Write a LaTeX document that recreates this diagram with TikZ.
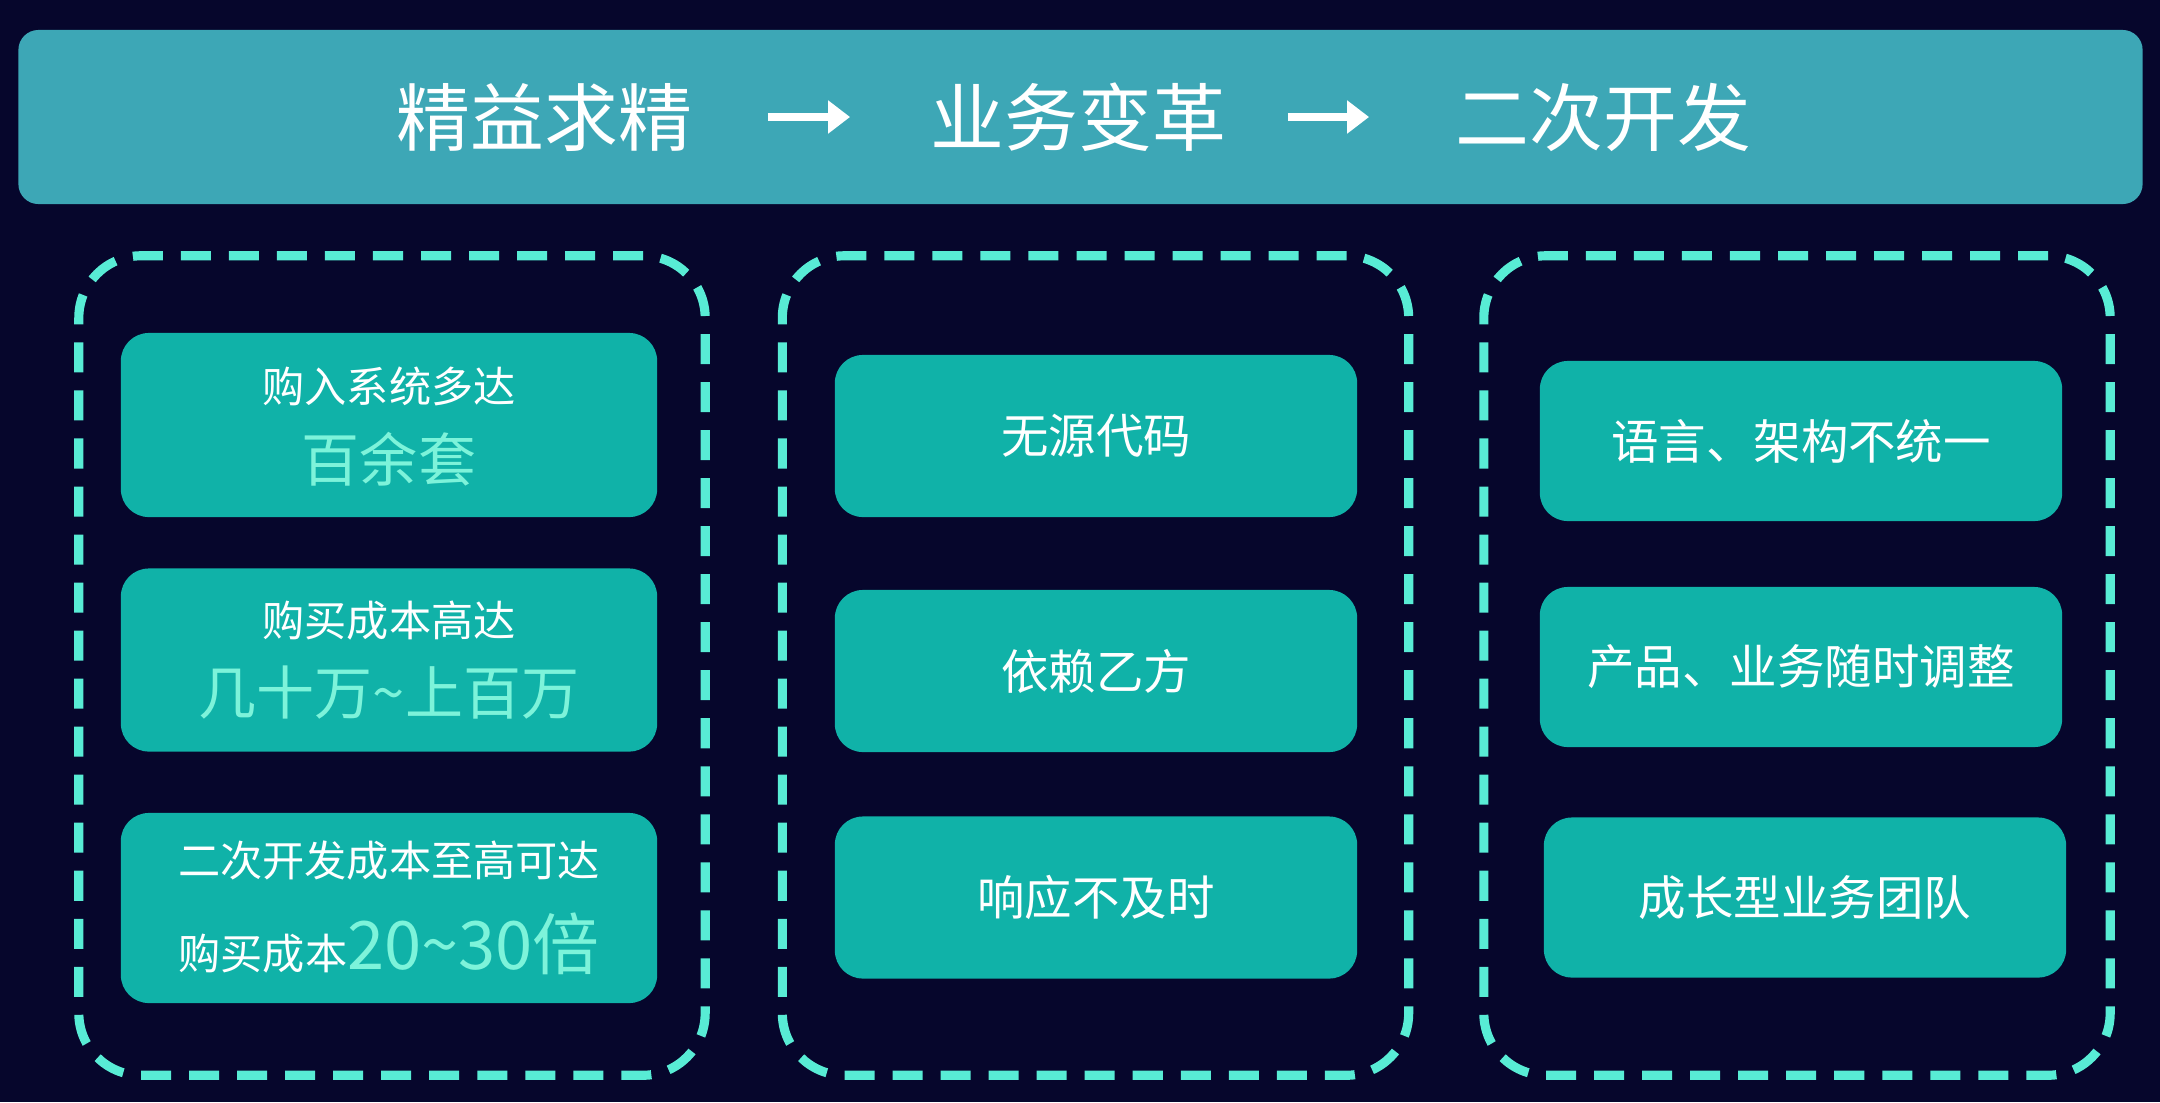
\documentclass[tikz,border=0pt]{standalone}
\usepackage{fontspec}
\newfontfamily\cjk{Noto Sans CJK SC}
\usepackage{xcolor}
\usetikzlibrary{positioning, arrows.meta}

\definecolor{bgnavy}{HTML}{06062C}
\definecolor{bannerteal}{HTML}{3DA7B6}
\definecolor{cardteal}{HTML}{10B2A8}
\definecolor{dashaqua}{HTML}{58ECD5}
\definecolor{hiaqua}{HTML}{7DF3DA}

\begin{document}
\begin{tikzpicture}[
                    % one unit is one pixel of the slide, y runs downwards
                    x=0.01cm, y=-0.01cm,
                    every node/.style={font=\cjk, text=white, inner sep=0pt},
                    card/.style={fill=cardteal, rounded corners=0.28cm,
                                 minimum width=5.22cm, minimum height=1.62cm},
                    group box/.style={draw=dashaqua, line width=2.6pt, rounded corners=0.62cm,
                                 dash pattern=on 0.3cm off 0.18cm,
                                 minimum width=6.26cm, minimum height=8.19cm},
                    title arrow/.style={-{Triangle[length=0.22cm,width=0.32cm]}, line width=2.3pt, white}
                  ]
                  % --- font sizes ---
                  \def\Small{\fontsize{12}{14}\selectfont}
                  \def\Mid{\fontsize{13.5}{16}\selectfont}
                  \def\Big{\fontsize{16.5}{20}\selectfont}
                  \def\Title{\fontsize{21}{25}\selectfont}

                  % --- background ---
                  \fill[bgnavy] (0,0) rectangle (2160,1102);
                  \useasboundingbox (0,0) rectangle (2160,1102);

                  % --- banner with the three stages ---
                  \node[fill=bannerteal, rounded corners=0.2cm, minimum width=21.23cm, minimum height=1.74cm] (banner) at (1080.5,117) {};
                  \node (lean) at (544.5,117) {\Title 精益求精};
                  \node (reform) at (1078.5,117) {\Title 业务变革};
                  \node (redev) at (1603.5,117) {\Title 二次开发};
                  \draw[title arrow, shorten <=0.75cm, shorten >=0.8cm] (lean) -- (reform);
                  \draw[title arrow, shorten <=0.61cm, shorten >=0.86cm] (reform) -- (redev);

                  % --- dashed groups ---
                  \node[group box] (grpA) at (392,665.5) {};
                  \node[group box] (grpB) at (1095.5,665.5) {};
                  \node[group box] (grpC) at (1797,665.5) {};

                  % --- left column: cost ---
                  \node[card, minimum width=5.36cm, minimum height=1.84cm] (buy) at (389,425) {};
                  \node (buy top) at (389,386) {\Small 购入系统多达};
                  \node[text=hiaqua] (buy num) at (389,459) {\Big 百余套};

                  \node[card, minimum width=5.36cm, minimum height=1.83cm] (cost) at (389,660) {};
                  \node (cost top) at (389,621) {\Small 购买成本高达};
                  \node[text=hiaqua] (cost num) at (389,693) {\Big 几十万\textasciitilde 上百万};

                  \node[card, minimum width=5.36cm, minimum height=1.90cm] (dev) at (389,908) {};
                  \node (dev top) at (389,861) {\Small 二次开发成本至高可达};
                  \node (dev num) at (389,944) {\Small 购买成本{\color{hiaqua}\fontsize{19}{22}\selectfont 20\textasciitilde 30倍}};

                  % --- middle column ---
                  \node[card] (nosrc) at (1096,436) {\Mid 无源代码};
                  \node[card] (vendor) at (1096,671) {\Mid 依赖乙方};
                  \node[card] (slow) at (1096,897.5) {\Mid 响应不及时};

                  % --- right column ---
                  \node[card, minimum height=1.60cm] (lang) at (1801,441) {\Mid 语言、架构不统一};
                  \node[card, minimum height=1.60cm] (adjust) at (1801,667) {\Mid 产品、业务随时调整};
                  \node[card, minimum height=1.60cm] (team) at (1805,897.5) {\Mid 成长型业务团队};

                \end{tikzpicture}
\end{document}
